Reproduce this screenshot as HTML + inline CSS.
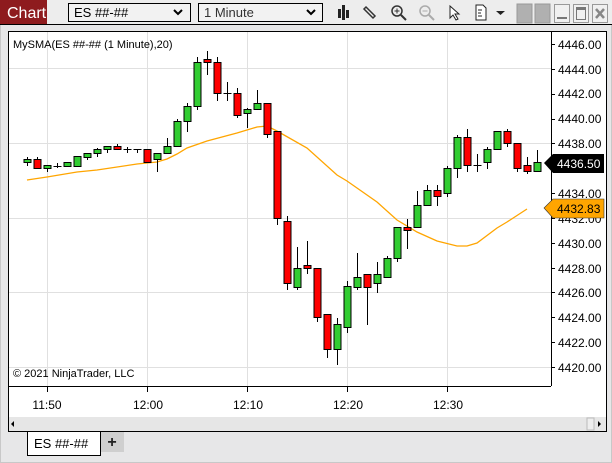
<!DOCTYPE html>
<html><head><meta charset="utf-8"><style>
body{margin:0;width:612px;height:463px;overflow:hidden;background:#e7e7e8;font-family:"Liberation Sans",sans-serif}
svg{position:absolute;left:0;top:0}
</style></head><body>
<svg width="612" height="463" viewBox="0 0 612 463" xmlns="http://www.w3.org/2000/svg" font-family="Liberation Sans, sans-serif">
<rect x="0" y="0" width="612" height="463" fill="#e7e7e8"/>
<rect x="0.5" y="0.5" width="611" height="462" fill="none" stroke="#c8c8c8"/>
<!-- toolbar -->
<rect x="0" y="0" width="612" height="24" fill="#ededed"/>
<line x1="0" y1="24.5" x2="612" y2="24.5" stroke="#000"/>
<rect x="0" y="0" width="47" height="24" fill="#8e1b1e"/>
<text x="7" y="18" font-size="16" fill="#fff">Chart</text>
<rect x="68.5" y="3.5" width="122" height="18" fill="#f2f2f2" stroke="#000"/>
<text x="74" y="17" font-size="13" fill="#000">ES ##-##</text>
<path d="M174 10 l4 4 l4 -4" fill="none" stroke="#000" stroke-width="2"/>
<rect x="198.5" y="3.5" width="124" height="18" fill="#f2f2f2" stroke="#000"/>
<text x="204" y="17" font-size="13" fill="#333">1 Minute</text>
<path d="M307 10 l4 4 l4 -4" fill="none" stroke="#000" stroke-width="2"/>
<g fill="#222"><rect x="338" y="9" width="3" height="9"/><rect x="342" y="5" width="3" height="15"/><rect x="346" y="10" width="3" height="8"/></g>
<path d="M366 7 l9 9 l-2 2 l-9 -9z" fill="none" stroke="#333" stroke-width="1.5"/>
<circle cx="397" cy="11" r="5" fill="none" stroke="#333" stroke-width="1.5"/><path d="M401 15 l5 5" stroke="#333" stroke-width="2"/><path d="M394.5 11h5M397 8.5v5" stroke="#333"/>
<circle cx="425" cy="11" r="5" fill="none" stroke="#aaa" stroke-width="1.5"/><path d="M429 15 l5 5" stroke="#aaa" stroke-width="2"/><path d="M422.5 11h5" stroke="#aaa"/>
<path d="M450 6 v12 l3 -3 l3 5 l2 -1 l-3 -5 h4z" fill="#fff" stroke="#222"/>
<path d="M476 5 h7 l3 3 v12 h-10z" fill="#fff" stroke="#222"/><path d="M478 10h4M478 13h3M478 16h4" stroke="#222"/>
<path d="M496 11 h9 l-4.5 4z" fill="#222"/>
<rect x="517" y="4" width="15" height="19" fill="#b0b0b0" stroke="#999"/>
<rect x="535" y="4" width="15" height="19" fill="#b0b0b0" stroke="#999"/>
<rect x="554.5" y="4.5" width="15" height="18" fill="#f0f0f0" stroke="#999"/><line x1="557" y1="18" x2="567" y2="18" stroke="#777" stroke-width="2"/>
<rect x="573.5" y="4.5" width="15" height="18" fill="#f0f0f0" stroke="#999"/><rect x="576.5" y="7.5" width="9" height="12" fill="none" stroke="#777"/><line x1="576" y1="9" x2="586" y2="9" stroke="#777" stroke-width="2"/>
<rect x="592.5" y="4.5" width="15" height="18" fill="#f0f0f0" stroke="#999"/><path d="M596 9 l8 9 M604 9 l-8 9" stroke="#888" stroke-width="2.5"/>
<!-- chart frame -->
<rect x="8.5" y="31.5" width="598" height="400" fill="#fff" stroke="#000"/>
<!-- grid -->
<g stroke="#e0e0e0" stroke-width="1">
<line x1="47.5" y1="32" x2="47.5" y2="386"/><line x1="147.5" y1="32" x2="147.5" y2="386"/><line x1="247.5" y1="32" x2="247.5" y2="386"/><line x1="347.5" y1="32" x2="347.5" y2="386"/><line x1="447.5" y1="32" x2="447.5" y2="386"/>
<line x1="9" y1="68.5" x2="551" y2="68.5"/><line x1="9" y1="143.5" x2="551" y2="143.5"/><line x1="9" y1="218.5" x2="551" y2="218.5"/><line x1="9" y1="292.5" x2="551" y2="292.5"/><line x1="9" y1="367.5" x2="551" y2="367.5"/>
</g>
<line x1="551.5" y1="31" x2="551.5" y2="386" stroke="#000"/>
<line x1="8" y1="386.5" x2="551" y2="386.5" stroke="#000"/>
<text x="13" y="48" font-size="11" fill="#000">MySMA(ES ##-## (1 Minute),20)</text>
<text x="13" y="377" font-size="11" fill="#000">© 2021 NinjaTrader, LLC</text>
<!-- SMA -->
<polyline fill="none" stroke="#ffa500" stroke-width="1.3" points="27,180 47,177 77,172 97,170 137,164 157,162 167,159 177,154 187,148 207,141 237,133 257,127 267,126 277,131 307,148 337,175 347,181 377,202 397,220 417,232 437,241 457,246 467,246 477,243 497,228 507,222 527,209"/>
<g id="c" stroke="#000" stroke-width="1"></g>
<!-- price axis -->
<g font-size="12" fill="#000" stroke="none">
<text x="558" y="49">4446.00</text><text x="558" y="74">4444.00</text><text x="558" y="98">4442.00</text><text x="558" y="123">4440.00</text><text x="558" y="148">4438.00</text><text x="558" y="173">4436.00</text><text x="558" y="198">4434.00</text><text x="558" y="223">4432.00</text><text x="558" y="248">4430.00</text><text x="558" y="273">4428.00</text><text x="558" y="297">4426.00</text><text x="558" y="322">4424.00</text><text x="558" y="347">4422.00</text><text x="558" y="372">4420.00</text>
</g>
<g stroke="#000"><line x1="551" y1="44.5" x2="555" y2="44.5"/><line x1="551" y1="69.5" x2="555" y2="69.5"/><line x1="551" y1="94.5" x2="555" y2="94.5"/><line x1="551" y1="119.5" x2="555" y2="119.5"/><line x1="551" y1="143.5" x2="555" y2="143.5"/><line x1="551" y1="168.5" x2="555" y2="168.5"/><line x1="551" y1="193.5" x2="555" y2="193.5"/><line x1="551" y1="218.5" x2="555" y2="218.5"/><line x1="551" y1="243.5" x2="555" y2="243.5"/><line x1="551" y1="268.5" x2="555" y2="268.5"/><line x1="551" y1="292.5" x2="555" y2="292.5"/><line x1="551" y1="317.5" x2="555" y2="317.5"/><line x1="551" y1="342.5" x2="555" y2="342.5"/><line x1="551" y1="367.5" x2="555" y2="367.5"/></g>
<path d="M544 163 l9 -9 h51 v19 h-51z" fill="#000"/>
<text x="557" y="168" font-size="12" fill="#fff">4436.50</text>
<path d="M544 208 l9 -9 h51 v19 h-51z" fill="#ffa500" stroke="#333" stroke-width="0.6"/>
<text x="557" y="213" font-size="12" fill="#000">4432.83</text>
<!-- time axis -->
<g stroke="#000"><line x1="47.5" y1="386" x2="47.5" y2="392"/><line x1="147.5" y1="386" x2="147.5" y2="392"/><line x1="247.5" y1="386" x2="247.5" y2="392"/><line x1="347.5" y1="386" x2="347.5" y2="392"/><line x1="447.5" y1="386" x2="447.5" y2="392"/></g>
<g font-size="12" fill="#000" text-anchor="middle"><text x="47" y="409">11:50</text><text x="148" y="409">12:00</text><text x="248" y="409">12:10</text><text x="348" y="409">12:20</text><text x="448" y="409">12:30</text></g>
<rect x="9" y="417" width="597" height="14" fill="#e6e6e6"/>
<path d="M14 421 v6 l-3 -3z" fill="#000"/>
<rect x="587" y="418" width="7" height="12" fill="#eee" stroke="#bbb"/>
<path d="M598 421 v6 l3 -3z" fill="#000"/>
<!-- tabs -->
<rect x="27.5" y="431.5" width="73" height="24" fill="#fff" stroke="#000"/>
<text x="34" y="448" font-size="13" fill="#000">ES ##-##</text>
<rect x="101" y="432" width="23" height="20" fill="#cfcfcf"/>
<text x="112" y="447" font-size="16" font-weight="bold" text-anchor="middle" fill="#222">+</text>
</svg>
<script>
var d=[[27,159,162,157,166,'g'],[37,159,168,157,168,'r'],[47,165,168,165,172,'g'],[57,166,166,163,168,'d'],[67,162,166,162,166,'g'],[77,156,166,156,166,'g'],[87,153,157,153,160,'g'],[97,149,153,148,157,'g'],[107,146,149,146,153,'g'],[117,146,149,144,149,'r'],[127,149,149,147,153,'d'],[137,149,149,149,153,'d'],[147,149,162,149,162,'r'],[157,153,159,153,172,'g'],[167,146,153,138,153,'g'],[177,121,146,119,146,'g'],[187,106,121,103,132,'g'],[197,62,106,57,110,'g'],[207,59,62,51,75,'r'],[217,62,93,57,101,'r'],[227,93,93,82,101,'d'],[237,93,115,88,118,'r'],[247,109,113,108,128,'g'],[257,103,109,90,109,'g'],[267,103,134,103,138,'r'],[277,131,218,131,225,'r'],[287,221,283,216,290,'r'],[297,268,287,247,290,'g'],[307,265,268,241,274,'r'],[317,268,317,268,322,'r'],[327,314,349,314,358,'r'],[337,324,349,318,365,'g'],[347,286,327,281,333,'g'],[357,277,287,253,290,'g'],[367,274,287,274,325,'r'],[377,274,283,262,293,'g'],[387,258,277,256,277,'g'],[397,227,258,227,262,'g'],[407,227,230,219,249,'r'],[417,205,227,191,227,'g'],[427,190,205,185,205,'g'],[437,190,196,185,206,'r'],[447,168,193,166,197,'g'],[457,137,168,135,178,'g'],[467,137,165,129,172,'r'],[477,165,165,154,172,'d'],[487,149,162,147,169,'g'],[497,131,149,131,149,'g'],[507,131,143,129,147,'r'],[517,143,168,143,172,'r'],[527,165,171,157,174,'r'],[537,162,171,150,171,'g']];
var g=document.getElementById('c'),s='';
d.forEach(function(c){var x=c[0]+0.5;
s+='<line x1="'+x+'" y1="'+c[3]+'" x2="'+x+'" y2="'+c[4]+'"/>';
if(c[5]=='d'){s+='<line x1="'+(x-4)+'" y1="'+(c[1]+0.5)+'" x2="'+(x+4)+'" y2="'+(c[1]+0.5)+'"/>';}
else{var h=Math.max(c[2]-c[1],2);s+='<rect x="'+(x-3.5)+'" y="'+(c[1]+0.5)+'" width="7" height="'+h+'" fill="'+(c[5]=='g'?'#32cd32':'#ff0000')+'"/>';}
});
g.innerHTML=s;
</script>
</body></html>
